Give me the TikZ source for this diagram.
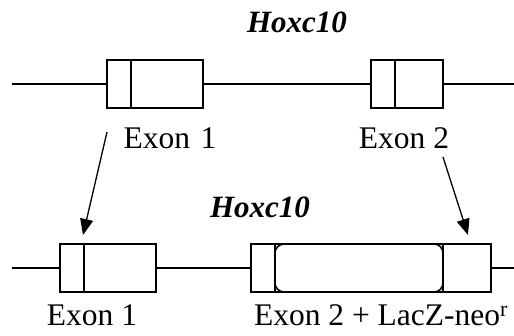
\documentclass[tikz,border=0pt]{standalone}
\usepackage{fontspec}
\setmainfont{Liberation Serif}
\usetikzlibrary{arrows.meta}
\begin{document}
\begin{tikzpicture}[x=1pt,y=1pt,
  exon/.style={draw, line width=1.6pt, fill=white, minimum height=48pt, inner sep=0pt, outer sep=0pt},
  gene/.style={line width=1.6pt},
  div/.style={line width=1.6pt},
  lbl/.style={font=\fontsize{31.5}{36}\selectfont, inner sep=0pt},
  ttl/.style={font=\fontsize{31}{36}\selectfont\bfseries\itshape, inner sep=0pt},
  arr/.style={line width=1.3pt, -{Triangle[length=16pt,width=13pt]}}]
\useasboundingbox (0,0) rectangle (514,335);
% top gene
\coordinate (tl) at (12,251);
\coordinate (tr) at (514,251);
\node[exon, minimum width=96pt] (t1) at (155,251) {};
\node[exon, minimum width=72pt] (t2) at (407,251) {};
\draw[gene] (tl) -- (t1.west);
\draw[gene] (t1.east) -- (t2.west);
\draw[gene] (t2.east) -- (tr);
\draw[div] ([xshift=24pt]t1.north west) -- ([xshift=24pt]t1.south west);
\draw[div] ([xshift=24pt]t2.north west) -- ([xshift=24pt]t2.south west);
\node[ttl] (tt) at (297,313) {Hoxc10};
\node[lbl] (te1) at (170,197) {Exon\hspace{0.33em}1};
\node[lbl] (te2) at (404,197) {Exon 2};
% bottom gene
\coordinate (bl) at (12,67);
\coordinate (br) at (514,67);
\node[exon, minimum width=96pt] (b1) at (108,67) {};
\node[exon, minimum width=240pt] (b2) at (371,67) {};
\draw[gene] (bl) -- (b1.west);
\draw[gene] (b1.east) -- (b2.west);
\draw[gene] (b2.east) -- (br);
\draw[div] ([xshift=24pt]b1.north west) -- ([xshift=24pt]b1.south west);
\draw[div] ([xshift=24pt]b2.north west) -- ([xshift=24pt]b2.south west);
\draw[div] ([xshift=-48pt]b2.north east) -- ([xshift=-48pt]b2.south east);
\draw[div, rounded corners=9pt] ([xshift=24pt]b2.north west) rectangle ([xshift=-48pt]b2.south east);
\node[ttl] (bt) at (260,128) {Hoxc10};
\node[lbl] (be1) at (92,20) {Exon 1};
\node[lbl] (be2) at (381,20) {Exon 2 + LacZ-neo\textsuperscript{r}};
% arrows
\coordinate (a1s) at (107,203);
\coordinate (a1e) at (83,100);
\coordinate (a2s) at (443,178);
\coordinate (a2e) at (468,100);
\draw[arr] (a1s) -- (a1e);
\draw[arr] (a2s) -- (a2e);
\end{tikzpicture}
\end{document}
